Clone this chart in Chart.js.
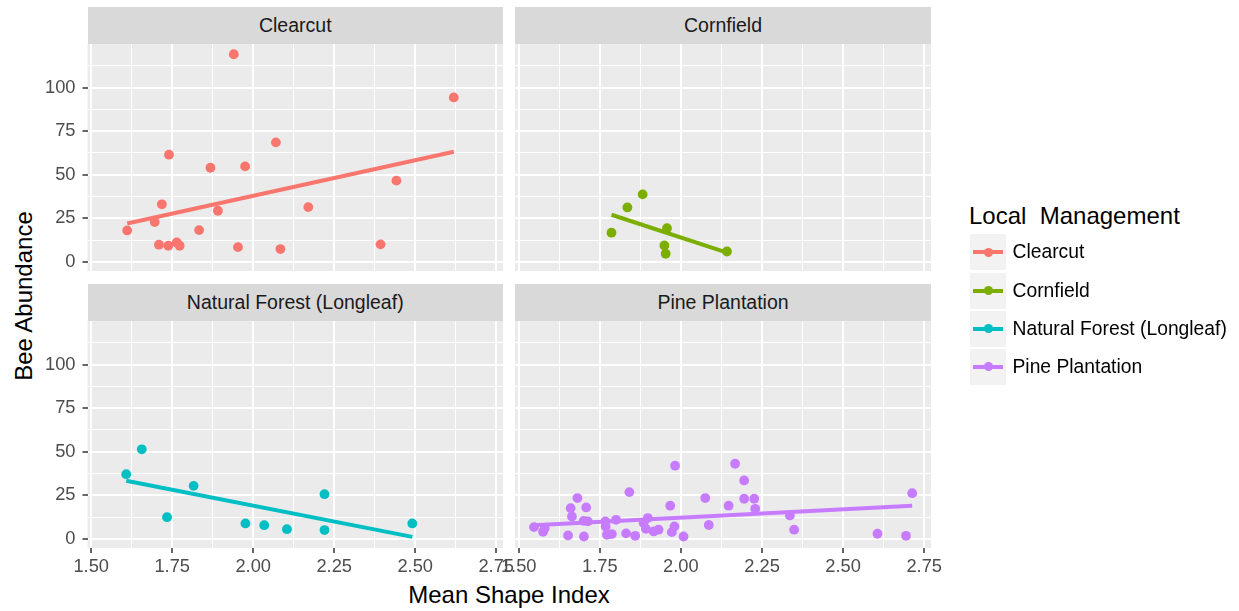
<!DOCTYPE html>
<html lang="en">
<head>
    <meta charset="UTF-8">
    <title>Bee Abundance by Mean Shape Index</title>
    <script src="https://cdn.jsdelivr.net/npm/chart.js"></script>
    <style>
        body { margin: 0; background: #fff; font-family: 'Liberation Sans', Arial, sans-serif; }
        #wrap { position: relative; width: 1239px; height: 611px; overflow: hidden; }
        #wrap canvas { position: absolute; left: 0; top: 0; }
        .strip { position: absolute; background: #D9D9D9; color: #1A1A1A; font-size: 19.5px;
                 display: flex; align-items: center; justify-content: center; }
        .axis-title { position: absolute; font-size: 24px; line-height: 24px; color: #000; white-space: nowrap; }
        .legend-title { position: absolute; left: 969px; top: 204px; font-size: 24px; line-height: 23px; white-space: pre; }
        .key { position: absolute; left: 970px; width: 36px; height: 36px; background: #F2F2F2; }
        .key .ln { position: absolute; left: 3px; width: 30px; top: 16px; height: 4px; }
        .key .dot { position: absolute; left: 13.5px; top: 13.5px; width: 9px; height: 9px; border-radius: 50%; }
        .key-label { position: absolute; left: 1012.5px; height: 36px; line-height: 36px; font-size: 19.3px; white-space: nowrap; }
    </style>
</head>
<body>

<div id="wrap">
    <div class="axis-title" id="xTitle" style="left:509px; top:583px; transform:translateX(-50%);">Mean Shape Index</div>
    <div class="axis-title" id="yTitle" style="left:23.5px; top:296px; transform:translate(-50%,-50%) rotate(-90deg);">Bee Abundance</div>
    <div class="legend-title">Local  Management</div>
</div>

<script>
    // facets / legend
    const facetNames = ['Clearcut', 'Cornfield', 'Natural Forest (Longleaf)', 'Pine Plantation'];
    const facetColors = ['#F8766D', '#7CAE00', '#00BFC4', '#C77CFF'];

    // tick labels
    const xTicks = [1.5, 1.75, 2.0, 2.25, 2.5, 2.75];
    const yTicks = [0, 25, 50, 75, 100];

    // points
    const clearcutX = [1.940, 2.619, 2.070, 1.740, 1.868, 1.975, 2.442, 1.718, 1.891, 2.170,
                       1.696, 1.611, 1.833, 1.709, 1.738, 1.764, 1.773, 1.953, 2.084, 2.393];
    const clearcutY = [119.2, 94.4, 68.6, 61.5, 54.0, 54.8, 46.6, 33.0, 29.3, 31.4,
                       22.8, 18.0, 18.2, 9.8, 9.2, 11.1, 9.2, 8.4, 7.3, 10.0];

    const cornfieldX = [1.882, 1.835, 1.786, 1.957, 1.949, 1.953, 2.142];
    const cornfieldY = [38.7, 31.2, 16.7, 19.3, 9.4, 4.6, 5.9];

    const forestX = [1.656, 1.608, 1.816, 1.734, 2.220, 1.976, 2.034, 2.104, 2.220, 2.491];
    const forestY = [51.4, 37.1, 30.4, 12.4, 25.6, 8.8, 7.8, 5.5, 5.0, 8.8];

    const pineX = [1.547, 1.575, 1.580, 1.681, 1.660, 1.708, 1.664, 1.700, 1.713, 1.652, 1.701,
                   1.767, 1.768, 1.772, 1.787, 1.800, 1.841, 1.831, 1.859, 1.885, 1.898,
                   1.892, 1.916, 1.931, 1.967, 1.982, 1.980, 1.972, 2.008, 2.167, 2.195,
                   2.075, 2.195, 2.226, 2.147, 2.229, 2.086, 2.336, 2.349, 2.606, 2.694, 2.713];
    const pineY = [6.7, 4.0, 6.0, 23.4, 17.6, 18.0, 12.8, 10.3, 10.0, 1.9, 1.3,
                   10.0, 7.1, 2.3, 2.7, 10.9, 26.8, 3.1, 1.7, 9.0, 11.9,
                   5.7, 4.2, 5.2, 19.0, 42.0, 7.1, 3.8, 1.3, 43.1, 33.5,
                   23.4, 23.0, 23.0, 19.0, 17.2, 7.9, 13.4, 5.2, 2.9, 1.7, 26.2];

    // fitted lines (end points)
    const clearcutFitX = [1.611, 2.619];
    const clearcutFitY = [22.0, 63.2];
    const cornfieldFitX = [1.786, 2.142];
    const cornfieldFitY = [27.0, 5.2];
    const forestFitX = [1.608, 2.491];
    const forestFitY = [33.3, 1.1];
    const pineFitX = [1.547, 2.713];
    const pineFitY = [7.7, 19.0];

    const X_MIN = 1.4885, X_MAX = 2.771;
    const Y_MIN = -5.3, Y_MAX = 125.1;

    const colLeft = [87.5, 515], colRight = [503, 931];
    const rowTop = [44, 321], rowBottom = [271, 548];
    const STRIP_H = 37.5;
    const Y_AXIS_W = 60, X_AXIS_H = 30;
    const W = 1239, H = 611;

    const tickFont = {family: "'Liberation Sans', Arial, sans-serif", size: 18.3};

    function withMinor(major, lo, hi) {
        const step = major[1] - major[0];
        const all = major.slice();
        all.push(major[0] - step / 2);
        major.forEach(v => all.push(v + step / 2));
        return all.filter(v => v >= lo && v <= hi).sort((a, b) => a - b);
    }
    const xGrid = withMinor(xTicks, X_MIN, X_MAX);
    const yGrid = withMinor(yTicks, Y_MIN, Y_MAX);

    const isMajor = (v, list) => list.some(m => Math.abs(m - v) < 1e-9);

    const panelBg = {
        id: 'panelBg',
        beforeDraw(chart) {
            const a = chart.chartArea, c = chart.ctx;
            c.save();
            c.fillStyle = '#EBEBEB';
            c.fillRect(a.left, a.top, a.right - a.left, a.bottom - a.top);
            c.restore();
        }
    };

    const panels = [
        {xs: clearcutX, ys: clearcutY, fx: clearcutFitX, fy: clearcutFitY, col: 0, row: 0},
        {xs: cornfieldX, ys: cornfieldY, fx: cornfieldFitX, fy: cornfieldFitY, col: 1, row: 0},
        {xs: forestX, ys: forestY, fx: forestFitX, fy: forestFitY, col: 0, row: 1},
        {xs: pineX, ys: pineY, fx: pineFitX, fy: pineFitY, col: 1, row: 1}
    ];

    const wrap = document.getElementById('wrap');

    panels.forEach((p, i) => {
        const L = colLeft[p.col], R = colRight[p.col], T = rowTop[p.row], B = rowBottom[p.row];
        const showX = p.row === 1, showY = p.col === 0;
        const color = facetColors[i];

        const strip = document.createElement('div');
        strip.className = 'strip';
        strip.style.left = L + 'px';
        strip.style.top = (T - STRIP_H) + 'px';
        strip.style.width = (R - L) + 'px';
        strip.style.height = STRIP_H + 'px';
        strip.textContent = facetNames[i];
        wrap.appendChild(strip);

        const canvas = document.createElement('canvas');
        canvas.width = W;
        canvas.height = H;
        wrap.appendChild(canvas);

        new Chart(canvas, {
            type: 'scatter',
            data: {
                datasets: [
                    {
                        label: facetNames[i],
                        data: p.xs.map((x, k) => ({x: x, y: p.ys[k]})),
                        backgroundColor: color,
                        pointRadius: 4.9,
                        pointHoverRadius: 4.9,
                        pointBorderWidth: 0
                    },
                    {
                        label: facetNames[i] + ' fit',
                        data: p.fx.map((x, k) => ({x: x, y: p.fy[k]})),
                        showLine: true,
                        borderColor: color,
                        borderWidth: 4,
                        borderCapStyle: 'butt',
                        pointRadius: 0,
                        pointHoverRadius: 0
                    }
                ]
            },
            options: {
                responsive: false,
                animation: false,
                devicePixelRatio: 1,
                events: [],
                layout: {
                    padding: {left: L - Y_AXIS_W, right: W - R, top: T, bottom: H - B - X_AXIS_H}
                },
                plugins: {
                    legend: {display: false},
                    tooltip: {enabled: false}
                },
                scales: {
                    x: {
                        type: 'linear',
                        min: X_MIN,
                        max: X_MAX,
                        border: {display: false},
                        afterBuildTicks: s => { s.ticks = xGrid.map(v => ({value: v})); },
                        afterFit: s => { s.height = X_AXIS_H; },
                        grid: {
                            color: '#FFFFFF',
                            lineWidth: c => (c.tick && isMajor(c.tick.value, xTicks)) ? 2 : 1,
                            drawTicks: showX,
                            tickLength: 5,
                            tickWidth: 1.5,
                            tickColor: c => (c.tick && isMajor(c.tick.value, xTicks)) ? '#333333' : 'rgba(0,0,0,0)'
                        },
                        ticks: {
                            display: showX,
                            autoSkip: false,
                            maxRotation: 0,
                            padding: 3,
                            color: '#4D4D4D',
                            font: tickFont,
                            callback: v => isMajor(v, xTicks) ? v.toFixed(2) : ''
                        }
                    },
                    y: {
                        type: 'linear',
                        min: Y_MIN,
                        max: Y_MAX,
                        border: {display: false},
                        afterBuildTicks: s => { s.ticks = yGrid.map(v => ({value: v})); },
                        afterFit: s => { s.width = Y_AXIS_W; },
                        grid: {
                            color: '#FFFFFF',
                            lineWidth: c => (c.tick && isMajor(c.tick.value, yTicks)) ? 2 : 1,
                            drawTicks: showY,
                            tickLength: 5,
                            tickWidth: 1.5,
                            tickColor: c => (c.tick && isMajor(c.tick.value, yTicks)) ? '#333333' : 'rgba(0,0,0,0)'
                        },
                        ticks: {
                            display: showY,
                            autoSkip: false,
                            padding: 7,
                            color: '#4D4D4D',
                            font: tickFont,
                            callback: v => isMajor(v, yTicks) ? String(v) : ''
                        }
                    }
                }
            },
            plugins: [panelBg]
        });
    });

    // legend
    facetNames.forEach((name, i) => {
        const top = 234.3 + i * 38.2;
        const key = document.createElement('div');
        key.className = 'key';
        key.style.top = top + 'px';
        key.innerHTML = '<div class="ln" style="background:' + facetColors[i] + '"></div>' +
                        '<div class="dot" style="background:' + facetColors[i] + '"></div>';
        wrap.appendChild(key);
        const lab = document.createElement('div');
        lab.className = 'key-label';
        lab.style.top = top + 'px';
        lab.textContent = name;
        wrap.appendChild(lab);
    });
</script>

</body>
</html>
